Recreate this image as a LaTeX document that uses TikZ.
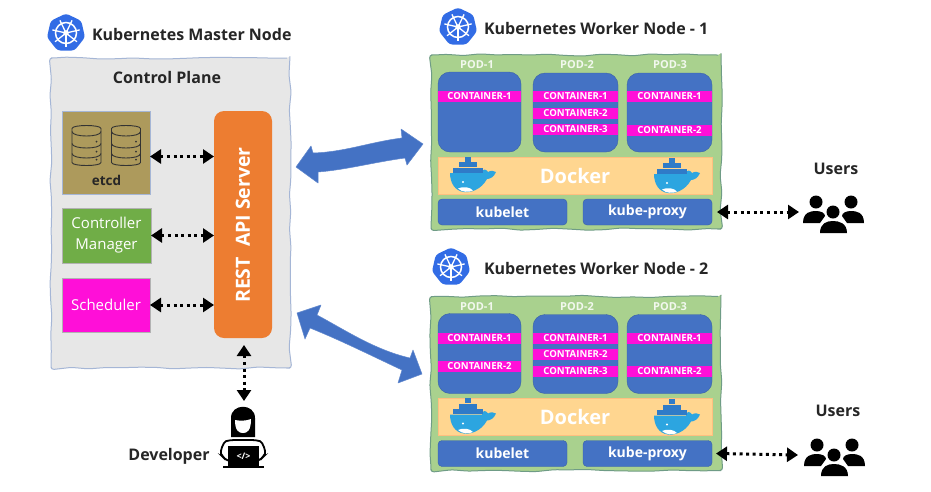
\documentclass[tikz,border=0pt]{standalone}
\usepackage{fontspec}
\setmainfont{Open Sans}
\usetikzlibrary{arrows.meta,decorations.pathmorphing,shapes.geometric,calc}
\definecolor{k8sblue}{HTML}{326CE5}
\definecolor{podblue}{HTML}{4472C4}
\definecolor{planegray}{HTML}{E7E7E7}
\definecolor{planeline}{HTML}{A5B6D6}
\definecolor{workgreen}{HTML}{A9D18E}
\definecolor{workline}{HTML}{6F9C86}
\definecolor{etcdbrown}{HTML}{AD9A5C}
\definecolor{ctrlgreen}{HTML}{70AD47}
\definecolor{magentabox}{HTML}{FF0FD8}
\definecolor{restorange}{HTML}{ED7D31}
\definecolor{dockeryellow}{HTML}{FFD690}
\definecolor{whaleblue}{HTML}{2CA5E0}
\definecolor{whaledark}{HTML}{2F7BC8}
\newcommand{\fs}[1]{\fontsize{#1}{#1}\selectfont}
\tikzset{
  x=1pt,y=-1pt,
  every node/.style={inner sep=0pt,outer sep=0pt,align=center},
  wavy/.style={decorate,decoration={random steps,segment length=17pt,amplitude=1.2pt},rounded corners=3pt},
  plane/.style={draw=planeline,line width=1pt,fill=planegray,wavy},
  worker/.style={draw=workline,line width=1pt,fill=workgreen,wavy},
  title/.style={font=\bfseries\fs{16},text=black!85,anchor=west},
  heading/.style={font=\bfseries\fs{16},text=black!85},
  sidebox/.style={font=\fs{15},text=white,draw=black!30,line width=.5pt},
  podbox/.style={fill=podblue,rounded corners=12pt,draw=podblue!85!black,line width=.4pt},
  podlabel/.style={font=\bfseries\fs{11},text=white!85!workgreen},
  strip/.style={fill=magentabox,font=\bfseries\fs{9.6},text=white,minimum height=11pt,minimum width=85pt},
  dockerbox/.style={fill=dockeryellow,draw=orange!50,line width=.5pt,font=\bfseries\fs{20},text=white},
  agent/.style={fill=podblue,rounded corners=4pt,font=\bfseries\fs{14},text=white,draw=podblue!85!black,line width=.4pt},
  link/.style={line width=3pt,dash pattern=on 3pt off 3.6pt,{Triangle[width=14pt,length=11pt]}-{Triangle[width=14pt,length=11pt]},black},
  trunk/.style={fill=podblue,draw=podblue!85!white,line width=.5pt,line join=round},
  logo/.pic={
    \node[regular polygon,regular polygon sides=7,minimum size=39pt,fill=k8sblue,rounded corners=3pt] {};
    \draw[white,line width=1.5pt] (0,0) circle (10.5);
    \fill[white] (0,0) circle (2.8);
    \foreach \a in {-90,-38.6,12.8,64.3,115.7,167.1,218.6}
      \draw[white,line width=1.3pt] (0,0) -- (\a:-14);
  },
  whale/.pic={
    \fill[whaleblue] (-23,-2) -- (9,-2) .. controls (10,-7) and (13,-6) .. (15,-3)
      .. controls (18,-5) and (21,-4) .. (23,-3) .. controls (21,2) and (17,4) .. (14,4)
      .. controls (8,15) and (-3,18) .. (-9,17) .. controls (-18,16) and (-23,8) .. (-23,-2) -- cycle;
    \fill[white] (-15,13.5) .. controls (-10,11) and (-3,12) .. (0,15.5) .. controls (-4,17.5) and (-11,17.5) .. (-15,13.5) -- cycle;
    \fill[white] (-10,7) circle (1.2);
    \foreach \xx/\yy in {-17/-5,-11/-5,-5/-5,1/-5,7/-5,-11/-10.5,-5/-10.5,1/-10.5,-5/-16}
      \fill[whaledark] (\xx-2.7,\yy-2.5) rectangle (\xx+2.7,\yy+2.5);
  },
  people/.pic={
    \fill[black] (-17,-11) circle (6.5) (18,-11) circle (6.5) (0,-1) circle (6.5);
    \fill[black] (-30,10) .. controls (-30,-1) and (-22,-2) .. (-17,-2) .. controls (-12,-2) and (-8,0) .. (-8,3) -- (-13,10) -- cycle;
    \fill[black] (31,10) .. controls (31,-1) and (23,-2) .. (18,-2) .. controls (13,-2) and (9,0) .. (9,3) -- (14,10) -- cycle;
    \fill[black] (-13,20) .. controls (-13,10) and (-6,8) .. (0,8) .. controls (6,8) and (14,10) .. (14,20) -- cycle;
  },
  coder/.pic={
    \fill[black] (-12,-3) -- (-12,-22) .. controls (-12,-37) and (12,-37) .. (12,-22) -- (12,-3) -- cycle;
    \fill[white] (-8,-20) .. controls (-3,-19) and (3,-19) .. (8,-21) .. controls (8,-9) and (4,-7) .. (0,-7) .. controls (-4,-7) and (-8,-9) .. (-8,-20) -- cycle;
    \fill[white] (-15,-2) rectangle (15,6);
    \draw[black,line width=1.8pt,fill=white,rounded corners=4pt] (-20,17) .. controls (-23,12) and (-20,2) .. (-13,0) -- (13,0) .. controls (20,2) and (23,12) .. (20,17) -- (16,21) -- (-16,21) -- cycle;
    \fill[black] (-15,6) rectangle (16,27);
    \fill[black] (-20,26) rectangle (21,28);
    \node[text=white,font=\bfseries\fs{9}] at (0.5,16) {</>};
  },
  drum/.pic={
    \draw[black!80,line width=.9pt,rounded corners=3pt,fill=etcdbrown]
      (-14.5,-14) .. controls (-14.5,-21) and (14.5,-21) .. (14.5,-14) -- (14.5,14) .. controls (14.5,21) and (-14.5,21) .. (-14.5,14) -- cycle;
    \draw[black!80,line width=.9pt] (-14.5,-14) .. controls (-14.5,-8) and (14.5,-8) .. (14.5,-14)
      (-14.5,-2) .. controls (-14.5,4) and (14.5,4) .. (14.5,-2)
      (-14.5,8) .. controls (-14.5,14) and (14.5,14) .. (14.5,8);
    \fill[black!80] (10,-4) circle (1) (10,6) circle (1) (10,14) circle (1);
  }
}
\newcommand{\workerbase}[1]{%
  \node[worker,minimum width=290pt,minimum height=174pt] (#1box) at (576,142) {};
  \node[podbox,minimum width=83pt,minimum height=80pt] (#1pa) at (479.5,112) {};
  \node[podbox,minimum width=85pt,minimum height=79pt] (#1pb) at (575.5,112.5) {};
  \node[podbox,minimum width=85pt,minimum height=79pt] (#1pc) at (669.5,112.5) {};
  \node[podlabel] (#1la) at (477,65) {POD-1};
  \node[podlabel] (#1lb) at (577,65) {POD-2};
  \node[podlabel] (#1lc) at (670,65) {POD-3};
  \node[dockerbox,minimum width=274pt,minimum height=37pt] (#1dock) at (575,175.5) {Docker};
  \pic at (473,175) {whale};
  \pic at (677,176) {whale};
  \node[agent,minimum width=129pt,minimum height=26pt] (#1let) at (502.5,212) {kubelet};
  \node[agent,minimum width=129pt,minimum height=26pt] (#1prx) at (647.5,212) {kube-proxy};
}
\begin{document}
\begin{tikzpicture}
\useasboundingbox (0,0) rectangle (931,491);
\fill[white] (0,0) rectangle (931,491);

% Master
\pic at (66,33) {logo};
\node[title] (mastert) at (92,34) {Kubernetes Master Node};
\pgfmathsetseed{11}
\node[plane,minimum width=239pt,minimum height=310pt] (master) at (170.5,213) {};
\node[heading] (cp) at (167,77) {Control Plane};
\node[fill=etcdbrown,draw=planeline,line width=.6pt,minimum width=88pt,minimum height=83pt] (etcd) at (106,152.5) {};
\pic at (86.5,145.5) {drum};
\pic at (126,145.5) {drum};
\node[font=\bfseries\fs{13.5},text=black!85] (etcdt) at (106.5,180) {etcd};
\node[sidebox,fill=ctrlgreen,minimum width=89pt,minimum height=55pt] (ctrl) at (106.5,235.5) {Controller\\[6pt]Manager};
\node[sidebox,fill=magentabox,minimum width=88pt,minimum height=54pt] (sched) at (106,305) {Scheduler};
\node[fill=restorange,rounded corners=10pt,minimum width=58pt,minimum height=227pt] (rest) at (243,224.5) {};
\node[rotate=90,font=\bfseries\fs{19.5},text=white] (restt) at (243,225) {REST\hspace{5pt} API Server};

\draw[link] ([yshift=-4pt]etcd.east) -- ([yshift=-4pt]etcd.east -| rest.west);
\draw[link] (ctrl.east) -- (ctrl.east -| rest.west);
\draw[link] (sched.east) -- (sched.east -| rest.west);

% Developer
\pic (dev) at (243,440) {coder};
\coordinate (devtop) at (244,401);
\draw[link] ([yshift=-7pt,xshift=1pt]rest.south) -- (devtop);
\node[font=\bfseries\fs{16},text=black!85] (devt) at (169,456) {Developer};

% Worker 1
\pic at (458,27) {logo};
\node[title] (w1t) at (484,28) {Kubernetes Worker Node - 1};
\pgfmathsetseed{5}
\workerbase{a}
\node[strip,minimum width=83pt] (a11) at (479.5,96.5) {CONTAINER-1};
\node[strip] (a21) at (575.5,96.5) {CONTAINER-1};
\node[strip] (a22) at (575.5,113.5) {CONTAINER-2};
\node[strip] (a23) at (575.5,129.5) {CONTAINER-3};
\node[strip] (a31) at (669.5,96.5) {CONTAINER-1};
\node[strip] (a32) at (669.5,130) {CONTAINER-2};

% Worker 2
\pic at (451,267) {logo};
\node[title] (w2t) at (484,268) {Kubernetes Worker Node - 2};
\pgfmathsetseed{23}
\begin{scope}[yshift=-241.5pt]
\workerbase{b}
\node[strip,minimum width=83pt] (b11) at (479.5,96.5) {CONTAINER-1};
\node[strip,minimum width=83pt] (b12) at (479.5,125) {CONTAINER-2};
\node[strip] (b21) at (575.5,96.5) {CONTAINER-1};
\node[strip] (b22) at (575.5,113) {CONTAINER-2};
\node[strip] (b23) at (575.5,129.5) {CONTAINER-3};
\node[strip] (b31) at (669.5,96.5) {CONTAINER-1};
\node[strip] (b32) at (669.5,129.5) {CONTAINER-2};
\end{scope}

% Users
\node[heading] (u1t) at (836,169) {Users};
\pic (u1) at (833,213) {people};
\coordinate (u1c) at (799,212);
\draw[link] ([xshift=5pt]aprx.east) -- (u1c);
\node[heading] (u2t) at (838,411) {Users};
\pic (u2) at (834,456) {people};
\coordinate (u2c) at (798,455);
\draw[link] ([xshift=4pt]bprx.east) -- (u2c);

% Block arrows
\fill[trunk] (296,167) -- (311,146) -- (313,153) .. controls (345,152) and (370,142) .. (402,138) -- (401,129) -- (423,144) -- (407,165) -- (405,158)
  .. controls (375,162) and (345,170) .. (318,172) -- (318,183) -- cycle;
\fill[trunk] (297,313) -- (321,305) -- (317,315) .. controls (345,330) and (375,350) .. (410,358) -- (413,350) -- (422,374) -- (398,383) -- (402,370)
  .. controls (370,355) and (340,340) .. (310,328) -- (305,339) -- cycle;
\end{tikzpicture}
\end{document}
